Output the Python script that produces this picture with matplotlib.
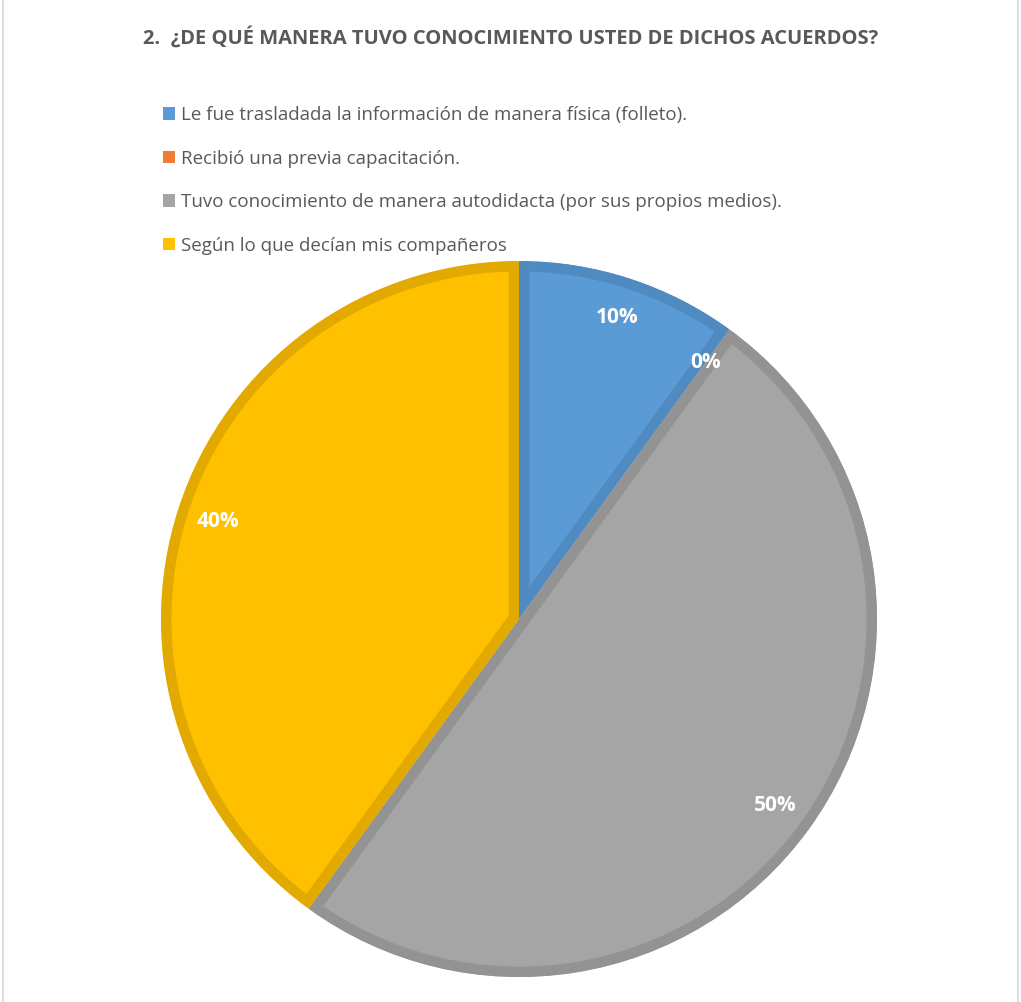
import matplotlib.pyplot as plt
from matplotlib.patches import Rectangle

# data
categorias = [
    "Le fue trasladada la información de manera física (folleto).",
    "Recibió una previa capacitación.",
    "Tuvo conocimiento de manera autodidacta (por sus propios medios).",
    "Según lo que decían mis compañeros",
]
porcentajes = [10, 0, 50, 40]

colores = ["#5B9BD5", "#ED7D31", "#A5A5A5", "#FFC000"]
bordes = ["#4F8AC0", "#D46E28", "#939393", "#E2AA00"]

plt.rcParams['font.family'] = ['Open Sans', 'DejaVu Sans']

fig = plt.figure(figsize=(10.21, 10.02), dpi=100)

# light frame around the chart area
fig.patches.append(Rectangle((0.003, -0.01), 0.994, 1.02, transform=fig.transFigure,
                             fill=False, edgecolor="#D9D9D9", linewidth=1.2))

fig.text(0.5, 0.962, "2.  ¿DE QUÉ MANERA TUVO CONOCIMIENTO USTED DE DICHOS ACUERDOS?",
         ha='center', va='center', fontsize=14.5, fontweight='bold', color='#595959')

ax = fig.add_axes([0.1577, 0.0249, 0.7013, 0.7146])
wedges, texts, autotexts = ax.pie(porcentajes, colors=colores, startangle=90,
                                  counterclock=False, radius=1,
                                  autopct='%.0f%%', pctdistance=0.885,
                                  wedgeprops=dict(linewidth=0))
for w, b in zip(wedges, bordes):
    # inner stroke: wide edge clipped to the wedge itself
    w.set_edgecolor(b)
    w.set_linewidth(15)
    w.set_clip_path(w.get_path(), w.get_transform())
    w.set_clip_on(True)
for t in autotexts:
    t.set_color('white')
    t.set_fontweight('bold')
    t.set_fontsize(15)
ax.set_xlim(-1, 1)
ax.set_ylim(-1, 1)
ax.set_aspect('equal')
ax.axis('off')

handles = [Rectangle((0, 0), 1, 1, facecolor=c, edgecolor='none') for c in colores]
fig.legend(handles, categorias, loc='upper left', bbox_to_anchor=(0.1597, 0.894),
           frameon=False, fontsize=13.5, labelcolor='#595959',
           handlelength=0.65, handleheight=0.65, handletextpad=0.32,
           labelspacing=1.36, borderpad=0, borderaxespad=0)

plt.savefig('out.png', dpi=100)
